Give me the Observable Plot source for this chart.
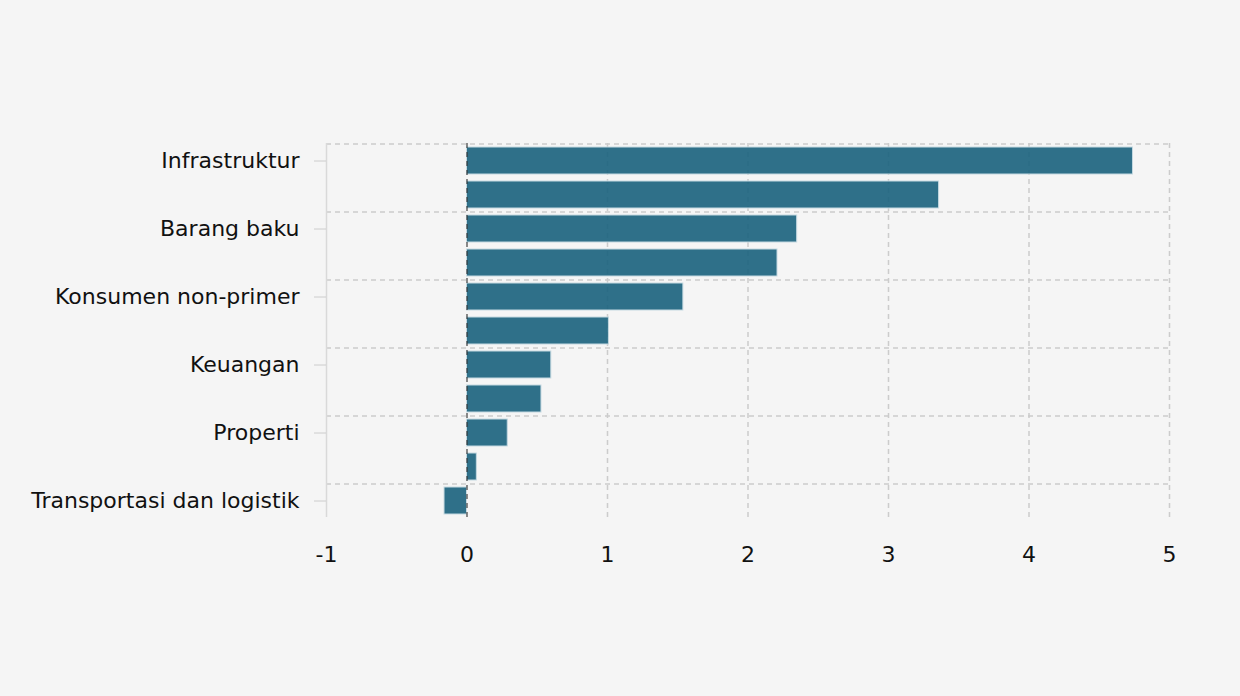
<!DOCTYPE html>
<html>
<head>
<meta charset="utf-8">
<script src="https://cdn.jsdelivr.net/npm/d3@7"></script>
<script src="https://cdn.jsdelivr.net/npm/@observablehq/plot@0.6"></script>
<style>
  html, body { margin: 0; padding: 0; background: #f5f5f5; }
  #chart svg { display: block; }
</style>
</head>
<body>
<div id="chart"></div>
<script>
const sectors = [
  "Infrastruktur", "Energi", "Barang baku", "Teknologi",
  "Konsumen non-primer", "Perindustrian", "Keuangan", "Kesehatan",
  "Properti", "Konsumen primer", "Transportasi dan logistik"
];
const values = [4.74, 3.36, 2.35, 2.21, 1.54, 1.01, 0.60, 0.53, 0.29, 0.07, -0.16];
const labeledSectors = ["Infrastruktur", "Barang baku", "Konsumen non-primer", "Keuangan", "Properti", "Transportasi dan logistik"];
const xTicks = [-1, 0, 1, 2, 3, 4, 5];

const data = sectors.map((s, i) => ({sector: s, value: values[i]}));

const W = 1240, H = 696, mTop = 143, mBottom = 179, mLeft = 326, mRight = 71;
const step = (H - mTop - mBottom) / sectors.length;

const chart = Plot.plot({
  width: W,
  height: H,
  marginTop: mTop,
  marginBottom: mBottom,
  marginLeft: mLeft,
  marginRight: mRight,
  style: {background: "#f5f5f5", fontFamily: "DejaVu Sans", fontSize: "22px", color: "#111"},
  x: {domain: [-1, 5], axis: null, label: null},
  y: {domain: sectors, paddingInner: 0.22, paddingOuter: 0.11, axis: null, label: null},
  marks: [
    Plot.ruleY(labeledSectors, {y: d => d, dy: -step / 2, stroke: "#cccccc", strokeWidth: 1.5, strokeDasharray: "5,4"}),
    Plot.ruleX(xTicks.filter(d => d !== -1 && d !== 0), {x: d => d, stroke: "#cccccc", strokeWidth: 1.5, strokeDasharray: "5,4"}),
    Plot.ruleX([-1], {x: d => d, stroke: "#d9d9d9", strokeWidth: 1.5}),
    Plot.barX(data, {x: "value", y: "sector", fill: "#19627d", fillOpacity: 0.9, stroke: "#c5d9e1", strokeWidth: 1}),
    Plot.ruleX([0], {x: d => d, stroke: "#333", strokeOpacity: 0.75, strokeWidth: 1.5, strokeDasharray: "5,4"}),
    Plot.axisY(labeledSectors, {label: null, tickSize: 12, tickPadding: 15, stroke: "#cccccc", fill: "#111", fontSize: 22}),
    Plot.axisX(xTicks, {label: null, tickSize: 0, tickPadding: 29, fill: "#111", fontSize: 22, tickFormat: d => String(d)})
  ]
});
document.getElementById("chart").appendChild(chart);
</script>
</body>
</html>
